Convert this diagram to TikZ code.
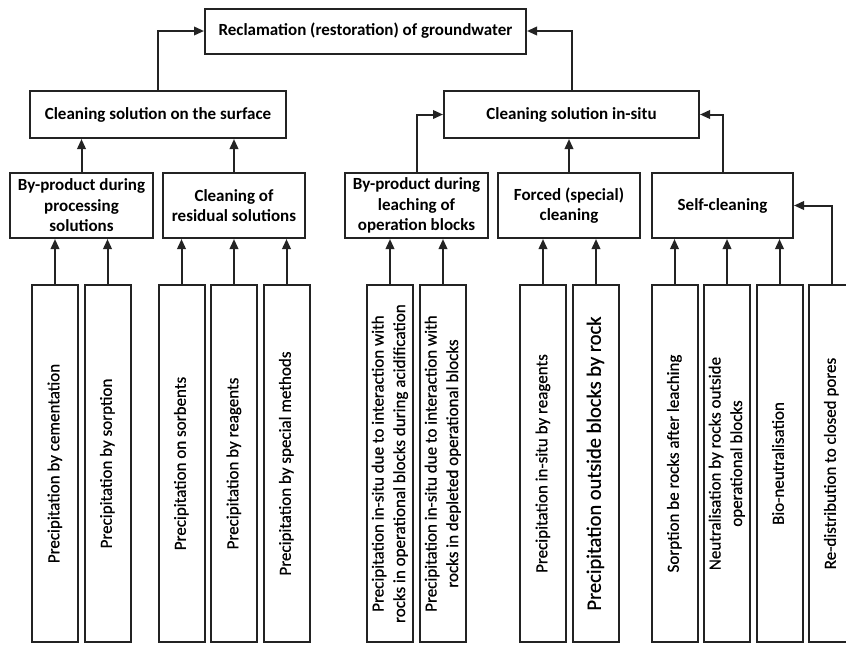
\documentclass[tikz,border=0pt]{standalone}
\usepackage{fontspec}
\setmainfont{Carlito}
\newfontface\medfont{Carlito}[FakeBold=0.6]
\usepackage{graphicx}
\usetikzlibrary{arrows.meta}
\definecolor{ink}{RGB}{35,35,35}
\newcommand{\vtext}[1]{\rotatebox{90}{\begin{tabular}{@{}c@{}}#1\end{tabular}}}
\begin{document}
\begin{tikzpicture}[x=1pt,y=1pt,
 box/.style={draw=ink, line width=2pt, inner sep=0pt, align=center, font=\fontsize{17}{20.5}\selectfont\bfseries, text=black},
 tall/.style={box, minimum width=46pt, minimum height=357pt, font=\medfont\fontsize{17}{21.5}\selectfont},
 arr/.style={draw=ink, line width=2pt, -{Triangle[length=10pt,width=8.5pt]}}]
\useasboundingbox (0,0) rectangle (846,-646);
\fill[white] (0,0) rectangle (846,-646);
% top
\node[box, minimum width=321pt, minimum height=45pt] (top) at (365.5,-31) {Reclamation (restoration) of groundwater};
\node[box, minimum width=256pt, minimum height=47pt] (surf) at (158,-114.5) {Cleaning solution on the surface};
\node[box, minimum width=255pt, minimum height=47pt] (insitu) at (571.5,-114.5) {Cleaning solution in-situ};
% row 2
\node[box, minimum width=143pt, minimum height=65pt] (b1) at (81.5,-205.5) {By-product during\\processing\\solutions};
\node[box, minimum width=142pt, minimum height=65pt] (b2) at (234,-205.5) {Cleaning of\\residual solutions};
\node[box, minimum width=143pt, minimum height=65pt] (b3) at (416.5,-205.5) {By-product during\\leaching of\\operation blocks};
\node[box, minimum width=142pt, minimum height=65pt] (b4) at (569,-205.5) {Forced (special)\\cleaning};
\node[box, minimum width=141pt, minimum height=65pt] (b5) at (722.5,-205.5) {Self-cleaning};
% row 3
\node[tall] (c1) at (55,-463.5) {\vtext{Precipitation by cementation}};
\node[tall] (c2) at (107.5,-463.5) {\vtext{Precipitation by sorption}};
\node[tall] (c3) at (181.5,-463.5) {\vtext{Precipitation on sorbents}};
\node[tall] (c4) at (234,-463.5) {\vtext{Precipitation by reagents}};
\node[tall] (c5) at (286.5,-463.5) {\vtext{Precipitation by special methods}};
\node[tall] (c6) at (390,-463.5) {\vtext{Precipitation in-situ due to interaction with\\rocks in operational blocks during acidification}};
\node[tall] (c7) at (443,-463.5) {\vtext{Precipitation in-situ due to interaction with\\rocks in depleted operational blocks}};
\node[tall] (c8) at (543,-463.5) {\vtext{Precipitation in-situ by reagents}};
\node[tall, font=\medfont\fontsize{20.5}{24}\selectfont] (c9) at (596,-463.5) {\vtext{Precipitation outside blocks by rock}};
\node[tall] (c10) at (674.5,-463.5) {\vtext{Sorption be rocks after leaching}};
\node[tall] (c11) at (727,-463.5) {\vtext{Neutralisation by rocks outside\\operational blocks}};
\node[tall] (c12) at (779.5,-463.5) {\vtext{Bio-neutralisation}};
\node[tall] (c13) at (831.5,-463.5) {\vtext{Re-distribution to closed pores}};
% connectors row3 -> row2
\foreach \c/\b in {c1/b1,c2/b1,c3/b2,c4/b2,c5/b2,c6/b3,c7/b3,c8/b4,c9/b4,c10/b5,c11/b5,c12/b5}
  \draw[arr] (\c.north) -- (\c.north |- \b.south);
\draw[arr] (c13.north) |- (b5.east);
% row2 -> row1
\draw[arr] (b1.north) -- (b1.north |- surf.south);
\draw[arr] (b2.north) -- (b2.north |- surf.south);
\draw[arr] (b3.north) |- (insitu.west);
\draw[arr] (b4.north) -- (b4.north |- insitu.south);
\draw[arr] (b5.north) |- (insitu.east);
% row1 -> top
\draw[arr] (surf.north) |- (top.west);
\draw[arr] (insitu.north) |- (top.east);
\end{tikzpicture}
\end{document}
